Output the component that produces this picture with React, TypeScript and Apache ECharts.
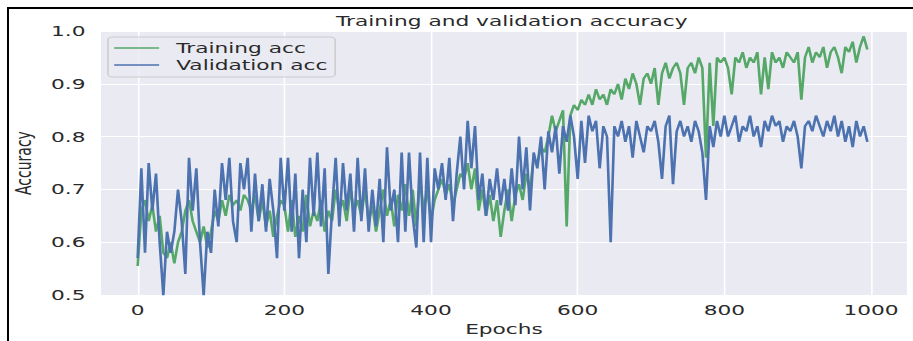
import React, { useEffect, useRef } from "react";
import * as echarts from "echarts";

const STEP = 5; // epochs between stored samples

const trainAcc = [
  0.555, 0.66, 0.68, 0.64, 0.67, 0.62, 0.65, 0.58, 0.57, 0.6,
  0.56, 0.6, 0.62, 0.66, 0.68, 0.64, 0.62, 0.6, 0.63, 0.59,
  0.62, 0.66, 0.64, 0.68, 0.65, 0.69, 0.67, 0.68, 0.66, 0.69,
  0.68, 0.66, 0.69, 0.64, 0.68, 0.63, 0.66, 0.61, 0.65, 0.68,
  0.67, 0.62, 0.68, 0.61, 0.65, 0.62, 0.69, 0.63, 0.66, 0.64,
  0.68, 0.62, 0.66, 0.64, 0.7, 0.66, 0.68, 0.64, 0.7, 0.66,
  0.68, 0.65, 0.7, 0.64, 0.67, 0.62, 0.66, 0.7, 0.65, 0.68,
  0.63, 0.69, 0.66, 0.71, 0.65, 0.7, 0.63, 0.72, 0.66, 0.7,
  0.64, 0.68, 0.7, 0.72, 0.69, 0.71, 0.67, 0.7, 0.73, 0.72,
  0.75, 0.7, 0.74, 0.66, 0.7, 0.65, 0.69, 0.64, 0.68, 0.61,
  0.66, 0.7, 0.64, 0.69, 0.71, 0.68, 0.73, 0.7, 0.76, 0.75,
  0.78, 0.77, 0.8, 0.84, 0.81, 0.83, 0.85, 0.63, 0.84, 0.86,
  0.85, 0.87, 0.86, 0.88, 0.86, 0.89, 0.87, 0.88, 0.86, 0.89,
  0.88, 0.9, 0.87, 0.91, 0.89, 0.92, 0.9, 0.86, 0.91, 0.92,
  0.9, 0.93, 0.86, 0.92, 0.94, 0.91, 0.93, 0.94, 0.92, 0.86,
  0.93, 0.94, 0.92, 0.95, 0.93, 0.76, 0.94, 0.82, 0.95, 0.94,
  0.95, 0.93, 0.88, 0.95, 0.94, 0.96, 0.93, 0.95, 0.94, 0.96,
  0.88, 0.95, 0.89, 0.96, 0.94, 0.95, 0.93, 0.96, 0.95, 0.94,
  0.96, 0.87, 0.95, 0.97, 0.94, 0.96, 0.95, 0.97, 0.93, 0.96,
  0.97, 0.95, 0.92, 0.97, 0.96, 0.98, 0.94, 0.97, 0.99, 0.965,
];

const valAcc = [
  0.57, 0.74, 0.58, 0.75, 0.66, 0.73, 0.6, 0.5, 0.62, 0.58,
  0.62, 0.7, 0.64, 0.54, 0.76, 0.66, 0.74, 0.6, 0.5, 0.62,
  0.58, 0.7, 0.63, 0.75, 0.68, 0.76, 0.64, 0.6, 0.75, 0.7,
  0.76, 0.62, 0.73, 0.64, 0.71, 0.62, 0.72, 0.66, 0.57, 0.76,
  0.66, 0.76, 0.62, 0.73, 0.57, 0.7, 0.6, 0.76, 0.65, 0.77,
  0.63, 0.74, 0.54, 0.66, 0.76, 0.63, 0.75, 0.66, 0.73, 0.62,
  0.76, 0.64, 0.74, 0.62, 0.7, 0.63, 0.72, 0.6, 0.78, 0.66,
  0.7, 0.6, 0.77, 0.62, 0.77, 0.65, 0.59, 0.77, 0.6, 0.76,
  0.6, 0.74, 0.7, 0.75, 0.68, 0.76, 0.64, 0.73, 0.8, 0.7,
  0.83, 0.74, 0.82, 0.68, 0.73, 0.65, 0.72, 0.68, 0.74, 0.67,
  0.72, 0.66, 0.74, 0.67, 0.8, 0.7, 0.78, 0.66, 0.77, 0.74,
  0.8, 0.7, 0.81, 0.77, 0.82, 0.73, 0.82, 0.79, 0.84, 0.8,
  0.72, 0.83, 0.75, 0.84, 0.81, 0.83, 0.74, 0.82, 0.8, 0.6,
  0.82, 0.8, 0.83, 0.79, 0.82, 0.76, 0.83, 0.8, 0.77, 0.82,
  0.81, 0.83, 0.79, 0.72, 0.82, 0.84, 0.71, 0.81, 0.83, 0.8,
  0.82, 0.79, 0.83, 0.81, 0.77, 0.68, 0.82, 0.78, 0.83, 0.8,
  0.84, 0.8, 0.82, 0.84, 0.79, 0.82, 0.81, 0.84, 0.8, 0.82,
  0.78, 0.83, 0.81, 0.84, 0.82, 0.83, 0.79, 0.82, 0.81, 0.83,
  0.8, 0.74, 0.82, 0.83, 0.81, 0.84, 0.82, 0.8, 0.83, 0.81,
  0.84, 0.8, 0.83, 0.79, 0.82, 0.78, 0.83, 0.8, 0.82, 0.79,
];

const xTicks = [0, 200, 400, 600, 800, 1000];
const seriesNames = ["Training acc", "Validation acc"];
const titleText = "Training and validation accuracy";

// the reference is stretched horizontally; render narrower and scale on X
const S = 1.55;
const W = 913;
const H = 341;
const FONT = "DejaVu Sans";
const TEXT = "#2a2a2a";

export default function App() {
  const ref = useRef<HTMLDivElement>(null);
  useEffect(() => {
    if (!ref.current) return;
    const chart = echarts.init(ref.current, null, { renderer: "svg" });
    const u = (px: number) => px / S;
    chart.setOption({
      animation: false,
      backgroundColor: "#ffffff",
      textStyle: { fontFamily: FONT },
      title: {
        text: titleText,
        left: u(504),
        textAlign: "center",
        top: 9,
        textStyle: { fontFamily: FONT, fontSize: 14, fontWeight: "normal", color: TEXT },
      },
      legend: {
        orient: "vertical",
        left: u(108),
        top: 37,
        data: seriesNames,
        icon: "rect",
        itemWidth: 29,
        itemHeight: 1.5,
        itemGap: 3,
        padding: [4, 5, 5, 4],
        backgroundColor: "rgba(234,234,242,0.8)",
        borderColor: "#cccccc",
        borderWidth: 1,
        borderRadius: 3,
        textStyle: { fontFamily: FONT, fontSize: 14, color: TEXT, padding: [0, 0, 0, 6] },
      },
      grid: {
        left: u(97),
        right: u(W - 907),
        top: 31,
        bottom: H - 300,
        show: true,
        backgroundColor: "#eaeaf2",
        borderWidth: 0,
      },
      xAxis: {
        type: "value",
        min: -50,
        max: 1049,
        name: "Epochs",
        nameLocation: "middle",
        nameGap: 22,
        nameTextStyle: { fontFamily: FONT, fontSize: 14, color: TEXT },
        axisLine: { show: false },
        axisTick: { show: false, customValues: xTicks },
        axisLabel: {
          customValues: xTicks,
          fontFamily: FONT,
          fontSize: 14,
          color: TEXT,
          margin: 8,
          formatter: (v: number) => String(v),
        },
        splitLine: { show: false },
      },
      yAxis: {
        type: "value",
        min: 0.5,
        max: 1.0,
        interval: 0.1,
        name: "Accuracy",
        nameLocation: "middle",
        nameRotate: 90,
        nameGap: 36,
        nameTextStyle: { fontFamily: FONT, fontSize: 14, color: TEXT },
        axisLine: { show: false },
        axisTick: { show: false },
        axisLabel: {
          fontFamily: FONT,
          fontSize: 14,
          color: TEXT,
          margin: 10,
          formatter: (v: number) => v.toFixed(1),
        },
        splitLine: { show: true, lineStyle: { color: "#ffffff", width: 1 } },
      },
      graphic: [
        { type: "rect", left: u(7), top: 7, shape: { width: u(W), height: 2 }, style: { fill: "#000" } },
        { type: "rect", left: u(7), top: 7, shape: { width: u(2), height: H }, style: { fill: "#000" } },
      ],
      series: [
        {
          name: seriesNames[0],
          type: "line",
          data: trainAcc.map((v, i) => [i * STEP, v]),
          symbol: "none",
          lineStyle: { color: "#55a868", width: 1.7 },
          itemStyle: { color: "#55a868" },
          z: 3,
          markLine: {
            silent: true,
            symbol: "none",
            label: { show: false },
            lineStyle: { color: "#ffffff", width: 1, type: "solid" },
            data: xTicks.map((t) => ({ xAxis: t })),
            z: 1,
          },
        },
        {
          name: seriesNames[1],
          type: "line",
          data: valAcc.map((v, i) => [i * STEP, v]),
          symbol: "none",
          lineStyle: { color: "#4c72b0", width: 1.7 },
          itemStyle: { color: "#4c72b0" },
          z: 4,
        },
      ],
    });
    return () => chart.dispose();
  }, []);
  return (
    <div
      ref={ref}
      style={{
        position: "fixed",
        left: 0,
        top: 0,
        width: W / S,
        height: H,
        transform: `scaleX(${S})`,
        transformOrigin: "0 0",
        background: "#fff",
      }}
    />
  );
}
